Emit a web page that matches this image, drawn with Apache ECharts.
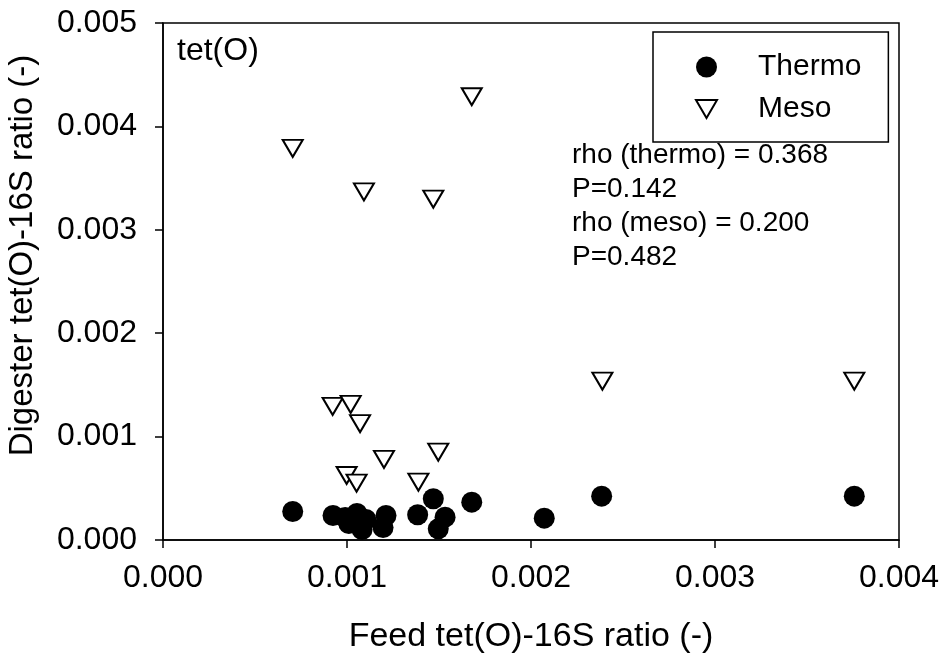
<!DOCTYPE html>
<html>
<head>
<meta charset="utf-8">
<script src="https://cdn.jsdelivr.net/npm/echarts@6/dist/echarts.min.js"></script>
<style>
  html, body { margin: 0; padding: 0; background: #fff; }
  #chart { width: 945px; height: 665px; }
</style>
</head>
<body>
<div id="chart"></div>
<script>
// feed ratio (x) and digester ratio (y)
var thermoX = [0.000705, 0.000924, 0.000990, 0.001010, 0.001054, 0.001082, 0.001103, 0.001212, 0.001196,
               0.001384, 0.001469, 0.001533, 0.001496, 0.001678, 0.002072, 0.002384, 0.003757];
var thermoY = [0.000276, 0.000237, 0.000218, 0.000160, 0.000257, 0.000102, 0.000198, 0.000237, 0.000121,
               0.000244, 0.000399, 0.000221, 0.000108, 0.000366, 0.000211, 0.000424, 0.000424];
var mesoX = [0.000705, 0.001092, 0.001469, 0.001678, 0.002388, 0.003757, 0.000922,
             0.001020, 0.001071, 0.001201, 0.001496, 0.000998, 0.001052, 0.001388];
var mesoY = [0.003787, 0.003367, 0.003296, 0.004287, 0.001537, 0.001537, 0.001292,
             0.001312, 0.001125, 0.000779, 0.000850, 0.000624, 0.000550, 0.000560];
var statLines = ['rho (thermo) = 0.368', 'P=0.142', 'rho (meso) = 0.200', 'P=0.482'];

var font = 'Liberation Sans, Arial, sans-serif';
var downTri = 'path://M0,0 L20,0 L10,17 Z';

function pairs(xs, ys) {
    return xs.map(function (x, i) { return [x, ys[i]]; });
}

var chart = echarts.init(document.getElementById('chart'));

var option = {
    backgroundColor: '#fff',
    animation: false,
    grid: {
        left: 163, right: 46, top: 23, bottom: 125,
        outerBoundsMode: 'none', containLabel: false,
        show: true, borderColor: '#000', borderWidth: 1.5
    },
    legend: {
        left: 653, top: 32,
        orient: 'vertical',
        borderColor: '#000', borderWidth: 1.5,
        padding: [20, 27, 18, 42],
        itemWidth: 21, itemHeight: 21, itemGap: 12,
        textStyle: { fontFamily: font, fontSize: 30, color: '#000', padding: [0, 0, 0, 36] },
        data: [
            { name: 'Thermo', icon: 'circle' },
            { name: 'Meso', icon: downTri }
        ]
    },
    xAxis: {
        type: 'value', min: 0, max: 0.004, interval: 0.001,
        name: 'Feed tet(O)-16S ratio (-)',
        nameLocation: 'middle', nameGap: 80,
        nameTextStyle: { fontFamily: font, fontSize: 34, color: '#000' },
        axisLine: { lineStyle: { color: '#000', width: 1.5 } },
        axisTick: { length: 8, lineStyle: { color: '#000', width: 1.5 } },
        axisLabel: {
            margin: 22, fontFamily: font, fontSize: 32, color: '#000',
            formatter: function (v) { return v.toFixed(3); }
        },
        splitLine: { show: false }
    },
    yAxis: {
        type: 'value', min: 0, max: 0.005, interval: 0.001,
        name: 'Digester tet(O)-16S ratio (-)',
        nameLocation: 'middle', nameGap: 124,
        nameTextStyle: { fontFamily: font, fontSize: 33, color: '#000', padding: [0, 0, 0, 52] },
        axisLine: { lineStyle: { color: '#000', width: 1.5 } },
        axisTick: { length: 8, lineStyle: { color: '#000', width: 1.5 } },
        axisLabel: {
            margin: 26, fontFamily: font, fontSize: 32, color: '#000',
            formatter: function (v) { return v.toFixed(3); }
        },
        splitLine: { show: false }
    },
    graphic: [
        {
            type: 'text', left: 177, top: 35,
            style: { text: 'tet(O)', font: '32px ' + font, fill: '#000' }
        },
        {
            type: 'text', left: 572, top: 138,
            style: { text: statLines.join('\n'), font: '28px ' + font, lineHeight: 34, fill: '#000' }
        }
    ],
    series: [
        {
            name: 'Thermo', type: 'scatter',
            symbol: 'circle', symbolSize: 21,
            itemStyle: { color: '#000', opacity: 1 },
            data: pairs(thermoX, thermoY)
        },
        {
            name: 'Meso', type: 'scatter',
            symbol: downTri, symbolSize: [20, 17],
            itemStyle: { color: '#fff', borderColor: '#000', borderWidth: 2, opacity: 1 },
            data: pairs(mesoX, mesoY)
        }
    ]
};

chart.setOption(option);
window.onresize = function () { chart.resize(); };
</script>
</body>
</html>
